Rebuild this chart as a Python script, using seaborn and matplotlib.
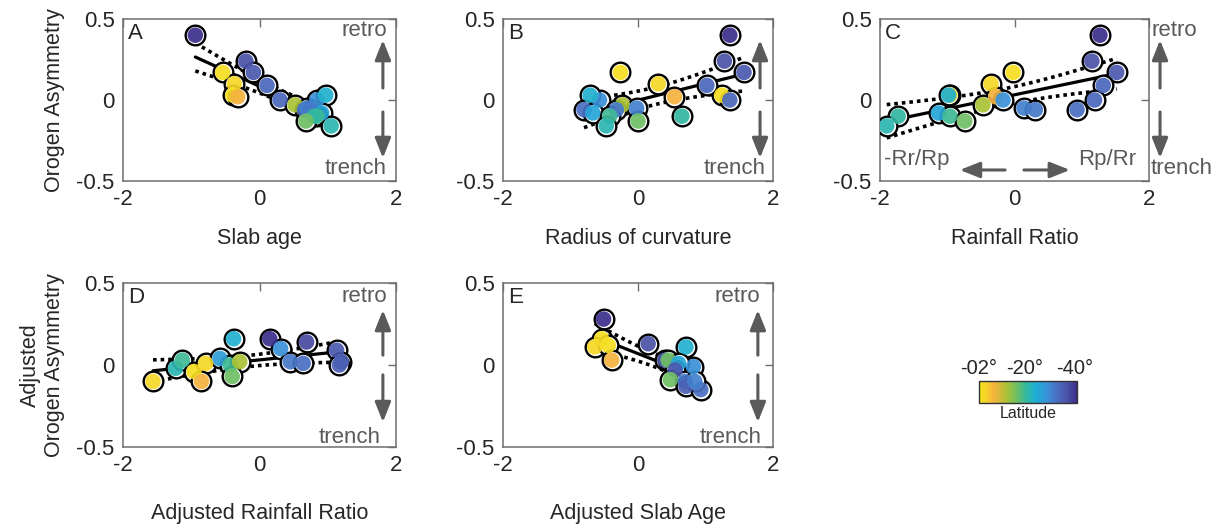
import numpy as np
import pandas as pd
import matplotlib
matplotlib.use("Agg")
import matplotlib.pyplot as plt
import seaborn as sns
from matplotlib.colors import LinearSegmentedColormap, Normalize
from matplotlib.cm import ScalarMappable

# ---------------- data ----------------
# Panels A-C share the same segments (latitude, orogen asymmetry)
lat_abc = [-41, -3, -37, -36, -4, -3, -8, -34, -34, -13, -29, -24, -33, -31, -32, -26, -20, -21, -17, -22]
asym_abc = [0.40, 0.17, 0.24, 0.17, 0.10, 0.03, 0.02, 0.09, 0.00, -0.03,
            0.00, 0.03, -0.06, -0.05, -0.06, -0.08, -0.10, -0.10, -0.13, -0.16]
slab_age = [-0.94, -0.54, -0.20, -0.09, -0.37, -0.39, -0.32, 0.11, 0.30, 0.52,
            0.84, 0.97, 0.66, 0.70, 0.75, 0.91, 0.84, 0.80, 0.68, 1.05]
radius_curv = [1.36, -0.26, 1.28, 1.57, 0.30, 1.24, 0.54, 1.02, 1.36, -0.23,
               -0.57, -0.71, -0.80, -0.02, -0.32, -0.67, -0.42, 0.65, 0.00, -0.47]
rain_ratio = [1.27, -0.02, 1.15, 1.52, -0.35, -0.96, -0.28, 1.32, 1.19, -0.47,
              -0.17, -0.98, 0.93, 0.14, 0.31, -1.13, -0.96, -1.73, -0.74, -1.90]

# Panel D
lat_d = [-4, -22, -20, -3, -4, -8, -27, -20, -13, -17, -24, -41, -29, -38, -32, -33, -36, -35, -35]
adj_rain = [-1.56, -1.23, -1.13, -0.96, -0.79, -0.85, -0.58, -0.43, -0.29, -0.40,
            -0.38, 0.15, 0.31, 0.69, 0.45, 0.64, 1.13, 1.20, 1.17]
adj_asym_d = [-0.10, -0.02, 0.03, -0.04, 0.01, -0.10, 0.04, 0.00, 0.02, -0.07,
              0.16, 0.16, 0.10, 0.14, 0.02, 0.01, 0.09, 0.02, 0.00]

# Panel E
lat_e = [-41, -3, -4, -3, -8, -37, -24, -29, -36, -17, -26, -36, -17, -32, -35, -33, -31]
adj_slab = [-0.51, -0.54, -0.64, -0.44, -0.39, 0.15, 0.71, 0.82, 0.40, 0.45,
            0.60, 0.55, 0.48, 0.70, 0.71, 0.93, 0.84]
adj_asym_e = [0.28, 0.16, 0.11, 0.12, 0.03, 0.13, 0.11, -0.01, 0.03, 0.03,
              0.01, -0.03, -0.09, -0.10, -0.13, -0.15, -0.10]

x_ticks = [-2, 0, 2]
x_tick_labels = ["-2", "0", "2"]
y_ticks = [-0.5, 0, 0.5]
y_tick_labels = ["-0.5", "0", "0.5"]
cbar_ticks = [2, 20, 40]
cbar_tick_labels = ["-02°", "-20°", "-40°"]

# ---------------- style ----------------
sns.set_theme(style="white")
plt.rcParams['font.family'] = ['Liberation Sans', 'DejaVu Sans']
plt.rcParams['axes.unicode_minus'] = False

cmap = LinearSegmentedColormap.from_list("parula_r_like", [
    (0.00, "#f5e51c"), (0.08, "#f7cf2c"), (0.15, "#f6b23e"), (0.28, "#aac234"),
    (0.38, "#72bf62"), (0.48, "#34b89e"), (0.58, "#1cafd6"), (0.70, "#3b8fd8"),
    (0.80, "#4a6dc0"), (0.90, "#4b52a8"), (1.00, "#3b2d8c")])
norm = Normalize(2, 41)

GRAY = "#5a5a5a"
TXT = "#262626"

fig = plt.figure(figsize=(12.21, 5.29), dpi=100)
W, H = 1221, 529


def add_axes(left, top, right, bottom):
    return fig.add_axes([left / W, 1 - bottom / H, (right - left) / W, (bottom - top) / H])


T_TABLE = {14: 2.145, 15: 2.131, 16: 2.120, 17: 2.110, 18: 2.101, 19: 2.093}


def panel(ax, x, y, lat, letter, xlabel):
    x = np.asarray(x, float)
    y = np.asarray(y, float)
    n = len(x)
    slope, icpt = np.polyfit(x, y, 1)
    resid = y - (slope * x + icpt)
    s = np.sqrt(np.sum(resid ** 2) / (n - 2))
    xm = x.mean()
    sxx = np.sum((x - xm) ** 2)
    xs = np.linspace(x.min(), x.max(), 100)
    yhat = slope * xs + icpt
    half = T_TABLE[n - 2] * s * np.sqrt(1.0 / n + (xs - xm) ** 2 / sxx)

    sns.lineplot(x=xs, y=yhat, ax=ax, color="black", lw=2.3, zorder=2)
    sns.lineplot(x=xs, y=yhat + half, ax=ax, color="black", lw=2.6,
                 linestyle=(0, (1, 1.1)), zorder=2)
    sns.lineplot(x=xs, y=yhat - half, ax=ax, color="black", lw=2.6,
                 linestyle=(0, (1, 1.1)), zorder=2)

    df = pd.DataFrame({"x": x, "y": y, "abslat": -np.asarray(lat, float)})
    sns.scatterplot(data=df, x="x", y="y", ax=ax, color="white", edgecolor="black",
                    linewidth=1.7, s=200, zorder=3)
    sns.scatterplot(data=df, x="x", y="y", hue="abslat", palette=cmap, hue_norm=norm,
                    ax=ax, s=125, linewidth=0, legend=False, zorder=4, alpha=0.92)

    ax.set_xlim(-2, 2)
    ax.set_ylim(-0.5, 0.5)
    ax.set_xticks(x_ticks)
    ax.set_xticklabels(x_tick_labels)
    ax.set_yticks(y_ticks)
    ax.set_yticklabels(y_tick_labels)
    ax.tick_params(direction="in", length=6, width=1, color="#6e6e6e",
                   top=True, right=True, labelsize=16, labelcolor=TXT, pad=6)
    for sp in ax.spines.values():
        sp.set_color("#6e6e6e")
        sp.set_linewidth(1.1)
    ax.set_xlabel(xlabel, fontsize=15.5, color=TXT, labelpad=13)
    ax.set_ylabel("")
    ax.text(0.018, 0.975, letter, transform=ax.transAxes, ha="left", va="top",
            fontsize=16, color=TXT)


def varrows(ax, xa, up0, up1, dn0, dn1):
    kw = dict(arrowstyle="-|>,head_length=0.75,head_width=0.3", color=GRAY, lw=2.2,
              mutation_scale=16, shrinkA=0, shrinkB=0)
    ax.annotate("", xy=(xa, up1), xytext=(xa, up0), xycoords="axes fraction",
                textcoords="axes fraction", arrowprops=kw, annotation_clip=False)
    ax.annotate("", xy=(xa, dn1), xytext=(xa, dn0), xycoords="axes fraction",
                textcoords="axes fraction", arrowprops=kw, annotation_clip=False)


def gtext(ax, x, y, s, ha):
    ax.text(x, y, s, transform=ax.transAxes, ha=ha, va="center", fontsize=16,
            color=GRAY, clip_on=False)


# ---------------- panels ----------------
axA = add_axes(123, 19, 396, 181)
axB = add_axes(503, 19, 773, 181)
axC = add_axes(880, 19, 1149, 181)
axD = add_axes(123, 283, 396, 447)
axE = add_axes(503, 283, 773, 447)

panel(axA, slab_age, asym_abc, lat_abc, "A", "Slab age")
panel(axB, radius_curv, asym_abc, lat_abc, "B", "Radius of curvature")
panel(axC, rain_ratio, asym_abc, lat_abc, "C", "Rainfall Ratio")
panel(axD, adj_rain, adj_asym_d, lat_d, "D", "Adjusted Rainfall Ratio")
panel(axE, adj_slab, adj_asym_e, lat_e, "E", "Adjusted Slab Age")

axA.set_ylabel("Orogen Asymmetry", fontsize=15.5, color=TXT, labelpad=8)
axD.set_ylabel("Adjusted\nOrogen Asymmetry", fontsize=15.5, color=TXT, labelpad=8)
for ax in (axD, axE):
    ax.xaxis.labelpad = 19

# annotations
gtext(axA, 0.967, 0.93, "retro", "right")
gtext(axA, 0.967, 0.08, "trench", "right")
varrows(axA, 0.952, 0.574, 0.87, 0.426, 0.142)

gtext(axB, 0.974, 0.08, "trench", "right")
varrows(axB, 0.952, 0.574, 0.87, 0.426, 0.142)

gtext(axC, 1.011, 0.93, "retro", "left")
gtext(axC, 1.007, 0.08, "trench", "left")
varrows(axC, 1.041, 0.574, 0.87, 0.426, 0.142)
gtext(axC, 0.015, 0.13, "-Rr/Rp", "left")
gtext(axC, 0.952, 0.13, "Rp/Rr", "right")
hkw = dict(arrowstyle="-|>,head_length=0.75,head_width=0.3", color=GRAY, lw=2.2,
           mutation_scale=16, shrinkA=0, shrinkB=0)
axC.annotate("", xy=(0.297, 0.068), xytext=(0.465, 0.068), xycoords="axes fraction",
             textcoords="axes fraction", arrowprops=hkw)
axC.annotate("", xy=(0.706, 0.068), xytext=(0.535, 0.068), xycoords="axes fraction",
             textcoords="axes fraction", arrowprops=hkw)

gtext(axD, 0.967, 0.915, "retro", "right")
gtext(axD, 0.945, 0.06, "trench", "right")
varrows(axD, 0.952, 0.56, 0.835, 0.44, 0.152)

gtext(axE, 0.952, 0.915, "retro", "right")
gtext(axE, 0.959, 0.06, "trench", "right")
varrows(axE, 0.944, 0.56, 0.835, 0.44, 0.152)

# ---------------- colorbar ----------------
cax = add_axes(979, 381, 1077, 403)
sm = ScalarMappable(norm=norm, cmap=cmap)
cb = fig.colorbar(sm, cax=cax, orientation="horizontal")
cb.outline.set_edgecolor("#333333")
cb.outline.set_linewidth(1.0)
cax.xaxis.set_ticks_position("top")
cax.xaxis.set_label_position("bottom")
cb.set_ticks(cbar_ticks)
cb.set_ticklabels(cbar_tick_labels)
cax.set_xticks([10, 20, 30, 40], minor=True)
cax.tick_params(axis="x", which="major", length=0, labelsize=14.5, labelcolor=TXT, pad=2)
cax.tick_params(axis="x", which="minor", direction="in", length=3, width=1, color="#333333", top=True, bottom=False)
cax.set_xlabel("Latitude", fontsize=11.5, color=TXT, labelpad=2)

fig.savefig("out.png", dpi=100)
